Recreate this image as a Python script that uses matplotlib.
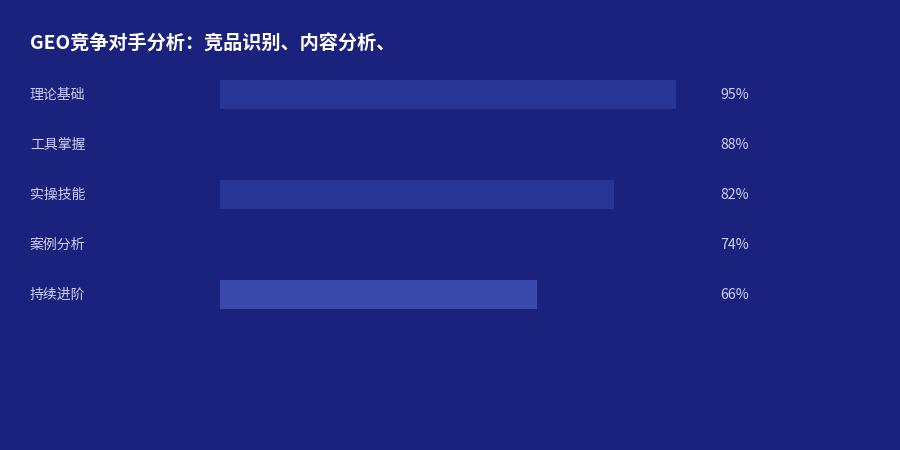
import matplotlib
matplotlib.use("Agg")
import matplotlib.pyplot as plt
from matplotlib.transforms import blended_transform_factory

plt.rcParams['font.family'] = ['Noto Sans CJK SC', 'DejaVu Sans']

title = "GEO竞争对手分析：竞品识别、内容分析、"
skills = ["理论基础", "工具掌握", "实操技能", "案例分析", "持续进阶"]
values = [95, 88, 82, 74, 66]

bg = "#1b227d"
# rows 2 and 4 blend into the background in the reference
bar_colors = ["#293594", bg, "#293594", bg, "#3a4aaa"]
text_color = "#cdd0ee"

fig = plt.figure(figsize=(9, 4.5), dpi=100)
fig.patch.set_facecolor(bg)

# axes spans x 220..700 px, rows centred at 94..294 px
ax = fig.add_axes([220 / 900, 1 - 319 / 450, 480 / 900, 250 / 450])
ax.set_facecolor(bg)
ax.set_xlim(0, 100)
ax.set_ylim(len(skills) - 0.5, -0.5)
ax.axis('off')

ax.barh(range(len(skills)), values, height=0.58, color=bar_colors, left=0)

tr = blended_transform_factory(fig.transFigure, ax.transData)
for i, (name, v) in enumerate(zip(skills, values)):
    ax.text(30 / 900, i + 0.02, name, transform=tr, ha='left', va='center',
            fontsize=10, color=text_color)
    ax.text(720 / 900, i + 0.02, f"{v}%", transform=tr, ha='left', va='center',
            fontsize=10.2, color=text_color)

fig.text(30 / 900, 1 - 44 / 450, title, ha='left', va='center',
         fontsize=13.8, fontweight='bold', color='white')

fig.savefig("out.png", dpi=100, facecolor=bg)
